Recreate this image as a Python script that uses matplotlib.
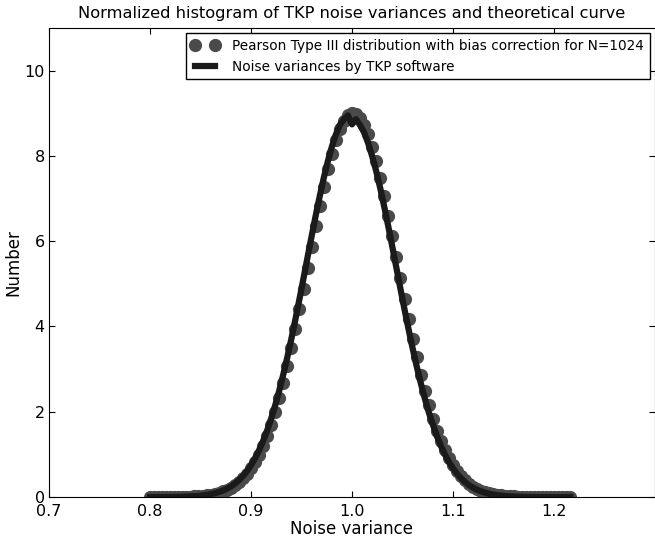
import matplotlib
matplotlib.use("Agg")
import matplotlib.pyplot as plt

# bin positions (noise variance)
variance = [
    0.800, 0.804, 0.808, 0.812, 0.816, 0.820, 0.824, 0.828, 0.832, 0.836,
    0.840, 0.844, 0.848, 0.852, 0.856, 0.860, 0.864, 0.868, 0.872, 0.876,
    0.880, 0.884, 0.888, 0.892, 0.896, 0.900, 0.904, 0.908, 0.912, 0.916,
    0.920, 0.924, 0.928, 0.932, 0.936, 0.940, 0.944, 0.948, 0.952, 0.956,
    0.960, 0.964, 0.968, 0.972, 0.976, 0.980, 0.984, 0.988, 0.992, 0.996,
    1.000, 1.004, 1.008, 1.012, 1.016, 1.020, 1.024, 1.028, 1.032, 1.036,
    1.040, 1.044, 1.048, 1.052, 1.056, 1.060, 1.064, 1.068, 1.072, 1.076,
    1.080, 1.084, 1.088, 1.092, 1.096, 1.100, 1.104, 1.108, 1.112, 1.116,
    1.120, 1.124, 1.128, 1.132, 1.136, 1.140, 1.144, 1.148, 1.152, 1.156,
    1.160, 1.164, 1.168, 1.172, 1.176, 1.180, 1.184, 1.188, 1.192, 1.196,
    1.200, 1.204, 1.208, 1.212, 1.216,
]

# theoretical curve (dots)
pearson = [
    0.000, 0.000, 0.001, 0.001, 0.001, 0.002, 0.003, 0.004, 0.006, 0.009,
    0.012, 0.017, 0.023, 0.031, 0.042, 0.057, 0.076, 0.099, 0.130, 0.168,
    0.216, 0.275, 0.348, 0.437, 0.543, 0.670, 0.820, 0.995, 1.198, 1.430,
    1.693, 1.988, 2.317, 2.679, 3.072, 3.491, 3.936, 4.403, 4.886, 5.378,
    5.873, 6.356, 6.827, 7.272, 7.684, 8.052, 8.370, 8.630, 8.826, 8.952,
    9.007, 8.989, 8.898, 8.737, 8.508, 8.218, 7.874, 7.483, 7.053, 6.594,
    6.116, 5.625, 5.132, 4.645, 4.169, 3.711, 3.278, 2.870, 2.495, 2.150,
    1.837, 1.558, 1.310, 1.092, 0.904, 0.742, 0.604, 0.488, 0.390, 0.310,
    0.244, 0.191, 0.148, 0.114, 0.087, 0.066, 0.049, 0.037, 0.027, 0.020,
    0.014, 0.010, 0.007, 0.005, 0.003, 0.002, 0.002, 0.001, 0.001, 0.001,
    0.000, 0.000, 0.000, 0.000, 0.000,
]

# normalized histogram from the TKP software (line)
tkp = [
    0.000, 0.001, 0.001, 0.001, 0.002, 0.003, 0.004, 0.005, 0.008, 0.011,
    0.015, 0.020, 0.027, 0.037, 0.050, 0.067, 0.088, 0.115, 0.149, 0.192,
    0.246, 0.312, 0.393, 0.490, 0.607, 0.745, 0.908, 1.097, 1.314, 1.562,
    1.841, 2.153, 2.498, 2.876, 3.282, 3.714, 4.170, 4.645, 5.132, 5.626,
    6.115, 6.592, 7.050, 7.478, 7.868, 8.211, 8.500, 8.728, 8.860, 8.950,
    8.740, 8.860, 8.720, 8.550, 8.300, 7.990, 7.640, 7.240, 6.800, 6.340,
    5.860, 5.370, 4.880, 4.400, 3.935, 3.490, 3.070, 2.680, 2.320, 1.990,
    1.700, 1.434, 1.201, 0.998, 0.823, 0.673, 0.546, 0.439, 0.350, 0.277,
    0.218, 0.170, 0.131, 0.101, 0.077, 0.058, 0.043, 0.032, 0.024, 0.017,
    0.012, 0.009, 0.006, 0.004, 0.003, 0.002, 0.002, 0.001, 0.001, 0.001,
    0.000, 0.000, 0.000, 0.000, 0.000,
]

xticks = [0.7, 0.8, 0.9, 1.0, 1.1, 1.2]
yticks = [0, 2, 4, 6, 8, 10]

fig = plt.figure(figsize=(6.55, 5.42), dpi=100)
ax = fig.add_axes([0.0748, 0.083, 0.9252, 0.8653])

ax.plot(variance, pearson, 'o', color='#4a4a4a', markersize=9.5, markeredgewidth=0,
        label='Pearson Type III distribution with bias correction for N=1024')
ax.plot(variance, tkp, '-', color='#1a1a1a', linewidth=4.5,
        label='Noise variances by TKP software')

ax.set_xlim(0.7, 1.3)
ax.set_ylim(0, 11)
ax.set_xticks(xticks)
ax.set_xticklabels(['%.1f' % t for t in xticks])
ax.set_yticks(yticks)
ax.tick_params(direction='in', top=True, right=True, length=4, labelsize=11.5)
ax.tick_params(axis='x', pad=5)
ax.tick_params(axis='y', pad=3)

ax.set_xlabel('Noise variance', fontsize=12, labelpad=1)
ax.set_ylabel('Number', fontsize=12, labelpad=1.5)
ax.set_title('Normalized histogram of TKP noise variances and theoretical curve',
             fontsize=11.7, pad=7)

leg = ax.legend(loc='upper right', numpoints=2, fontsize=9.8, fancybox=False,
                framealpha=1, handlelength=2.0, handletextpad=1.0,
                borderaxespad=0.4, labelspacing=0.5, borderpad=0.4)
leg.get_frame().set_edgecolor('black')
leg.get_frame().set_linewidth(1.0)

fig.savefig('out.png', dpi=100)
